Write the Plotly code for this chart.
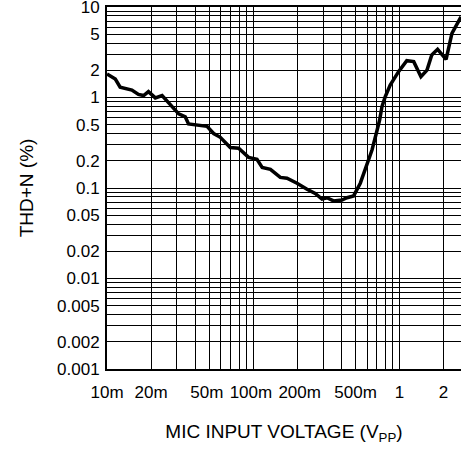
import plotly.graph_objects as go

# Data (MIC input voltage in V_PP, THD+N in %)
vin = [0.0100, 0.0114, 0.0123, 0.0148, 0.0164, 0.0178, 0.0192, 0.0214, 0.0238,
       0.0271, 0.0309, 0.0343, 0.0361, 0.0483, 0.0536, 0.0595, 0.0696, 0.0794,
       0.0929, 0.106, 0.115, 0.131, 0.153, 0.170, 0.199, 0.233, 0.265, 0.295,
       0.319, 0.354, 0.404, 0.437, 0.485, 0.539, 0.598, 0.648, 0.693, 0.730,
       0.758, 0.798, 0.863, 0.984, 1.12, 1.25, 1.40, 1.54, 1.66, 1.82, 2.08,
       2.28, 2.63]
thdn = [1.82, 1.60, 1.30, 1.21, 1.08, 1.05, 1.16, 0.99, 1.05,
        0.84, 0.66, 0.61, 0.51, 0.48, 0.40, 0.363, 0.28, 0.275,
        0.218, 0.207, 0.169, 0.161, 0.131, 0.128, 0.113, 0.097, 0.087, 0.0755,
        0.078, 0.072, 0.0736, 0.078, 0.0817, 0.113, 0.179, 0.263, 0.40, 0.56,
        0.79, 1.02, 1.37, 1.93, 2.55, 2.49, 1.70, 2.01, 2.95, 3.41, 2.64,
        5.11, 7.8]

NB = "\u00a0"
x_tickvals = [0.01, 0.02, 0.03, 0.04, 0.05, 0.06, 0.07, 0.08, 0.09,
              0.1, 0.2, 0.3, 0.4, 0.5, 0.6, 0.7, 0.8, 0.9, 1, 2]
x_ticktext = ["10m", "20m", "", "", "50m" + NB, "", "", "", "",
              "100m" + NB, NB + "200m", "", "", "500m", "", "", "", "", "1", "2"]

y_tickvals = [0.001, 0.002, 0.003, 0.004, 0.005, 0.006, 0.007, 0.008, 0.009,
              0.01, 0.02, 0.03, 0.04, 0.05, 0.06, 0.07, 0.08, 0.09,
              0.1, 0.2, 0.3, 0.4, 0.5, 0.6, 0.7, 0.8, 0.9,
              1, 2, 3, 4, 5, 6, 7, 8, 9, 10]
y_ticktext = ["0.001", "0.002", "", "", "0.005", "", "", "", "",
              "0.01", "0.02", "", "", "0.05", "", "", "", "",
              "0.1", "0.2", "", "", "0.5", "", "", "", "",
              "1", "2", "", "", "5", "", "", "", "", "10"]

fam = "Liberation Sans, Arial, sans-serif"
font = dict(family=fam, size=17, color="black")

fig = go.Figure()
fig.add_trace(go.Scatter(x=vin, y=thdn, mode="lines",
                         line=dict(color="black", width=3.5), showlegend=False))

fig.update_layout(
    width=461, height=449,
    margin=dict(l=107, r=0, t=7, b=80, autoexpand=False),
    paper_bgcolor="white", plot_bgcolor="white",
    font=font,
    xaxis=dict(type="log", range=[-2, 0.42], tickvals=x_tickvals, ticktext=x_ticktext,
               tickangle=0, automargin=False, ticklabelstandoff=7,
               ticklabeloverflow="allow",
               showgrid=True, gridcolor="black", gridwidth=1,
               showline=True, linecolor="black", linewidth=2, mirror=True,
               ticks="", zeroline=False,
               title=dict(text="MIC INPUT VOLTAGE (V<sub>PP</sub>)", standoff=23,
                          font=dict(family=fam, size=19, color="black"))),
    yaxis=dict(type="log", range=[-3, 1], tickvals=y_tickvals, ticktext=y_ticktext,
               automargin=False, ticklabelstandoff=2, ticklabeloverflow="allow",
               showgrid=True, gridcolor="black", gridwidth=1,
               showline=True, linecolor="black", linewidth=2,
               ticks="", zeroline=False,
               title=dict(text="THD+N (%)", standoff=18,
                          font=dict(family=fam, size=19, color="black"))),
)

fig.write_html("out.html", config={"displayModeBar": False},
               post_script="document.body.style.margin='0';document.body.style.padding='0';")
